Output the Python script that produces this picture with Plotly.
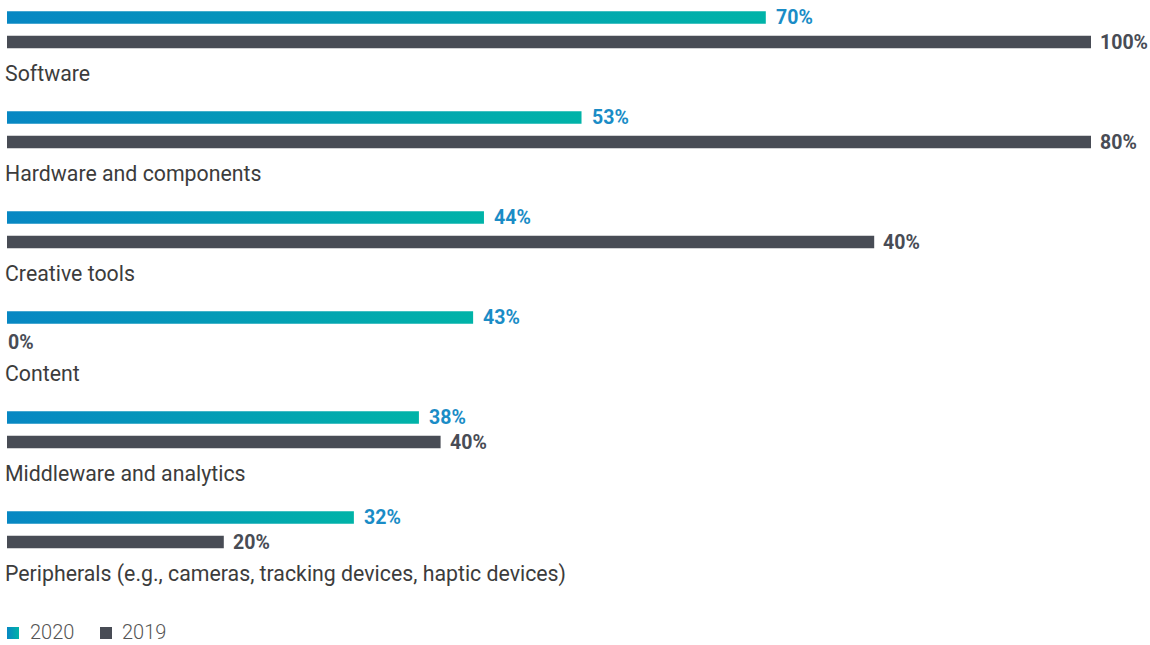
import plotly.graph_objects as go

categories = ["Software", "Hardware and components", "Creative tools", "Content",
              "Middleware and analytics",
              "Peripherals (e.g., cameras, tracking devices, haptic devices)"]
values_2020 = [70, 53, 44, 43, 38, 32]
labels_2020 = ["70%", "53%", "44%", "43%", "38%", "32%"]
# bar lengths as drawn in the reference (labels as printed)
values_2019 = [100, 100, 80, 0, 40, 20]
labels_2019 = ["100%", "80%", "40%", "0%", "40%", "20%"]
series_names = ["2020", "2019"]

W, H = 1150, 645
PX = 10.84          # pixels per percentage point
X0 = 7              # pixel position of the zero line
GROUP = 100
BAR_H = 12.5
C_BLUE = "#0787c3"
C_TEAL = "#00b3a8"
C_DARK = "#484c55"
C_LBL = "#1a8cc6"
FONT = "Roboto"
GRAD = [[0, C_BLUE], [1, C_TEAL]]

pos_2020 = [17.5 + GROUP * i for i in range(len(categories))]
pos_2019 = [42 + GROUP * i for i in range(len(categories))]
pos_cat = [73.5 + GROUP * i for i in range(len(categories))]


def px(p):
    return (p - X0) / PX


fig = go.Figure()
fig.add_trace(go.Bar(x=values_2019, y=pos_2019, orientation="h", width=BAR_H,
                     marker=dict(color=C_DARK, line=dict(width=0)), name="2019",
                     showlegend=False, hoverinfo="skip"))

# 2020 bars with horizontal gradient
for v, c in zip(values_2020, pos_2020):
    h = BAR_H / 2
    fig.add_trace(go.Scatter(
        x=[0, v, v, 0, 0], y=[c - h, c - h, c + h, c + h, c - h],
        mode="lines", line=dict(width=0), fill="toself",
        fillgradient=dict(type="horizontal", colorscale=GRAD),
        showlegend=False, hoverinfo="skip"))

annotations = []
for v, c, t in zip(values_2020, pos_2020, labels_2020):
    annotations.append(dict(x=v, y=c, xref="x", yref="y", text=f"<b>{t}</b>",
                            showarrow=False, xanchor="left", yanchor="middle",
                            xshift=8 if v > 0 else 0,
                            font=dict(family=FONT, size=19.5, color=C_LBL)))
for v, c, t in zip(values_2019, pos_2019, labels_2019):
    annotations.append(dict(x=v, y=c, xref="x", yref="y", text=f"<b>{t}</b>",
                            showarrow=False, xanchor="left", yanchor="middle",
                            xshift=7 if v > 0 else -1,
                            font=dict(family=FONT, size=19.5, color=C_DARK)))
for name, c in zip(categories, pos_cat):
    annotations.append(dict(x=0, y=c, xref="x", yref="y", text=name,
                            showarrow=False, xanchor="left", yanchor="middle",
                            xshift=-4,
                            font=dict(family=FONT, size=21.3, color="#3c3c3c")))

# manual legend (gradient swatch for 2020, dark swatch for 2019)
LEG_Y = 633
SW = 6
fig.add_trace(go.Scatter(
    x=[px(7), px(19), px(19), px(7), px(7)],
    y=[LEG_Y - SW, LEG_Y - SW, LEG_Y + SW, LEG_Y + SW, LEG_Y - SW],
    mode="lines", line=dict(width=0), fill="toself",
    fillgradient=dict(type="horizontal", colorscale=GRAD),
    showlegend=False, hoverinfo="skip"))
fig.add_trace(go.Scatter(
    x=[px(100), px(112), px(112), px(100), px(100)],
    y=[LEG_Y - SW, LEG_Y - SW, LEG_Y + SW, LEG_Y + SW, LEG_Y - SW],
    mode="lines", line=dict(width=0), fill="toself", fillcolor=C_DARK,
    showlegend=False, hoverinfo="skip"))
for name, p in zip(series_names, [30, 122]):
    annotations.append(dict(x=px(p), y=LEG_Y - 1, xref="x", yref="y", text=name,
                            showarrow=False, xanchor="left", yanchor="middle",
                            xshift=-2,
                            font=dict(family=FONT, size=20, color="#555555",
                                      weight=300)))

fig.update_layout(
    width=W, height=H,
    margin=dict(l=0, r=0, t=0, b=0, autoexpand=False),
    paper_bgcolor="white", plot_bgcolor="white",
    barmode="overlay",
    xaxis=dict(range=[px(0), px(W)], visible=False, fixedrange=True),
    yaxis=dict(range=[H, 0], visible=False, fixedrange=True),
    annotations=annotations,
    showlegend=False,
)

fig.write_html("out.html",
               config={"displayModeBar": False},
               post_script="document.body.style.margin='0px';"
                           "document.body.style.overflow='hidden';")
